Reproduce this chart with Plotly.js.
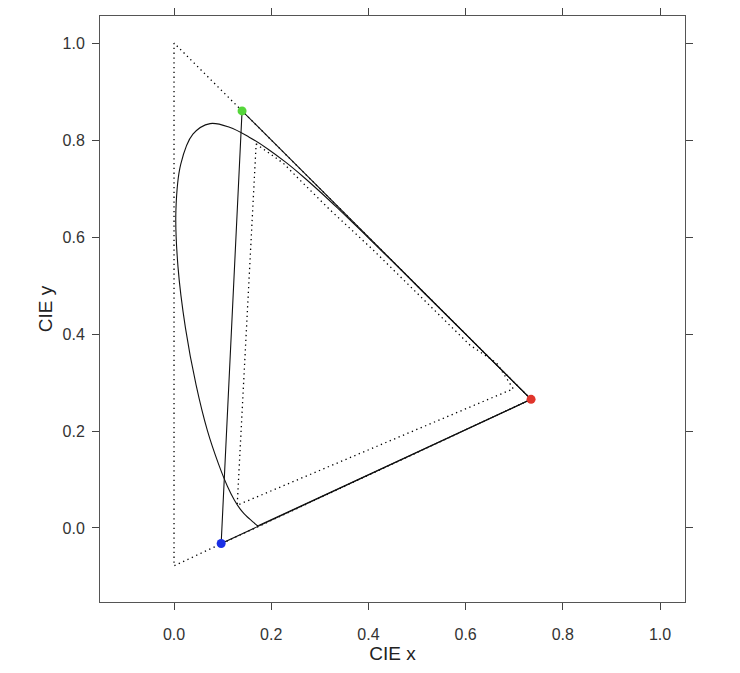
<!DOCTYPE html>
<html>
<head>
<meta charset="utf-8">
<script src="https://cdn.plot.ly/plotly-2.35.2.min.js"></script>
<style>html,body{margin:0;padding:0;background:#fff;}#chart{width:740px;height:673px;}</style>
</head>
<body>
<div id="chart"></div>
<script>
// Spectral locus (CIE 1931 chromaticity), 380..700 nm
const locusX = [0.1741,0.1740,0.1738,0.1736,0.1733,0.1730,0.1726,0.1721,0.1714,0.1703,0.1689,0.1669,0.1644,0.1611,0.1566,0.1510,0.1440,0.1355,0.1241,0.1096,0.0913,0.0687,0.0454,0.0235,0.0082,0.0039,0.0139,0.0389,0.0743,0.1142,0.1547,0.1929,0.2296,0.2658,0.3016,0.3373,0.3731,0.4087,0.4441,0.4788,0.5125,0.5448,0.5752,0.6029,0.6270,0.6482,0.6658,0.6801,0.6915,0.7006,0.7079,0.7140,0.7190,0.7230,0.7260,0.7283,0.7300,0.7311,0.7320,0.7327,0.7334,0.7340,0.7344,0.7346,0.7347];
const locusY = [0.0050,0.0050,0.0049,0.0049,0.0048,0.0048,0.0048,0.0048,0.0051,0.0058,0.0069,0.0086,0.0109,0.0138,0.0177,0.0227,0.0297,0.0399,0.0578,0.0868,0.1327,0.2007,0.2950,0.4127,0.5384,0.6548,0.7502,0.8120,0.8338,0.8262,0.8059,0.7816,0.7543,0.7243,0.6923,0.6589,0.6245,0.5896,0.5547,0.5202,0.4866,0.4544,0.4242,0.3965,0.3725,0.3514,0.3340,0.3197,0.3083,0.2993,0.2920,0.2859,0.2809,0.2770,0.2740,0.2717,0.2700,0.2689,0.2680,0.2673,0.2666,0.2660,0.2656,0.2654,0.2653];
// Purple line closing the locus (700 nm back to 380 nm)
const purpleX = [0.7347, 0.1741];
const purpleY = [0.2653, 0.0050];

// Primaries (solid triangle): red, green, blue
const primX = [0.7347, 0.140, 0.097];
const primY = [0.2653, 0.860, -0.032];
const primColors = ['#e0352b', '#55d63a', '#1a2fe6'];

// Outer dotted triangle
const outerX = [0.0, 0.0, 0.7347, 0.0];
const outerY = [1.0, -0.078, 0.2653, 1.0];

// Inner dotted gamut outline
const innerX = [0.169, 0.194, 0.225, 0.259, 0.321, 0.410, 0.541, 0.609, 0.664, 0.698, 0.130, 0.169];
const innerY = [0.792, 0.774, 0.752, 0.7175, 0.656, 0.573, 0.443, 0.377, 0.340, 0.287, 0.047, 0.792];

const tickVals = [0, 0.2, 0.4, 0.6, 0.8, 1.0];
const tickText = ['0.0', '0.2', '0.4', '0.6', '0.8', '1.0'];

const dotted = {color: '#000', width: 1.3, dash: '1.3px,3.5px'};

const traces = [
  {x: outerX, y: outerY, mode: 'lines', line: dotted, hoverinfo: 'skip'},
  {x: innerX, y: innerY, mode: 'lines', line: dotted, hoverinfo: 'skip'},
  {x: locusX, y: locusY, mode: 'lines', line: {color: '#111', width: 1.1, shape: 'spline', smoothing: 1}, hoverinfo: 'skip'},
  {x: purpleX, y: purpleY, mode: 'lines', line: {color: '#111', width: 1.1}, hoverinfo: 'skip'},
  {x: primX.concat([primX[0]]), y: primY.concat([primY[0]]), mode: 'lines', line: {color: '#111', width: 1.1}, hoverinfo: 'skip'},
  {x: primX, y: primY, mode: 'markers', marker: {color: primColors, size: 9, line: {width: 0}}, hoverinfo: 'skip'}
];

const axisFont = {family: 'Liberation Sans, Arial, sans-serif', size: 16, color: '#333'};
const titleFont = {family: 'Liberation Sans, Arial, sans-serif', size: 19, color: '#222'};

const layout = {
  width: 740, height: 673,
  margin: {l: 100, r: 55, t: 16, b: 71, pad: 0},
  paper_bgcolor: '#fff', plot_bgcolor: '#fff',
  showlegend: false,
  xaxis: {
    range: [-0.1523, 1.0514], tickvals: tickVals, ticktext: tickText,
    ticks: 'outside', ticklen: 7, tickcolor: '#444', tickwidth: 1,
    showline: true, linecolor: '#555', linewidth: 1, mirror: 'allticks',
    showgrid: false, zeroline: false, tickfont: axisFont, ticklabelstandoff: 11,
    title: {text: 'CIE x', font: titleFont, standoff: 0}
  },
  yaxis: {
    range: [-0.1526, 1.0557], tickvals: tickVals, ticktext: tickText,
    ticks: 'outside', ticklen: 7, tickcolor: '#444', tickwidth: 1,
    showline: true, linecolor: '#555', linewidth: 1, mirror: 'allticks',
    showgrid: false, zeroline: false, tickfont: axisFont, ticklabelstandoff: 4,
    title: {text: 'CIE y', font: titleFont, standoff: 4}
  }
};

Plotly.newPlot('chart', traces, layout, {staticPlot: true, displayModeBar: false});
</script>
</body>
</html>
